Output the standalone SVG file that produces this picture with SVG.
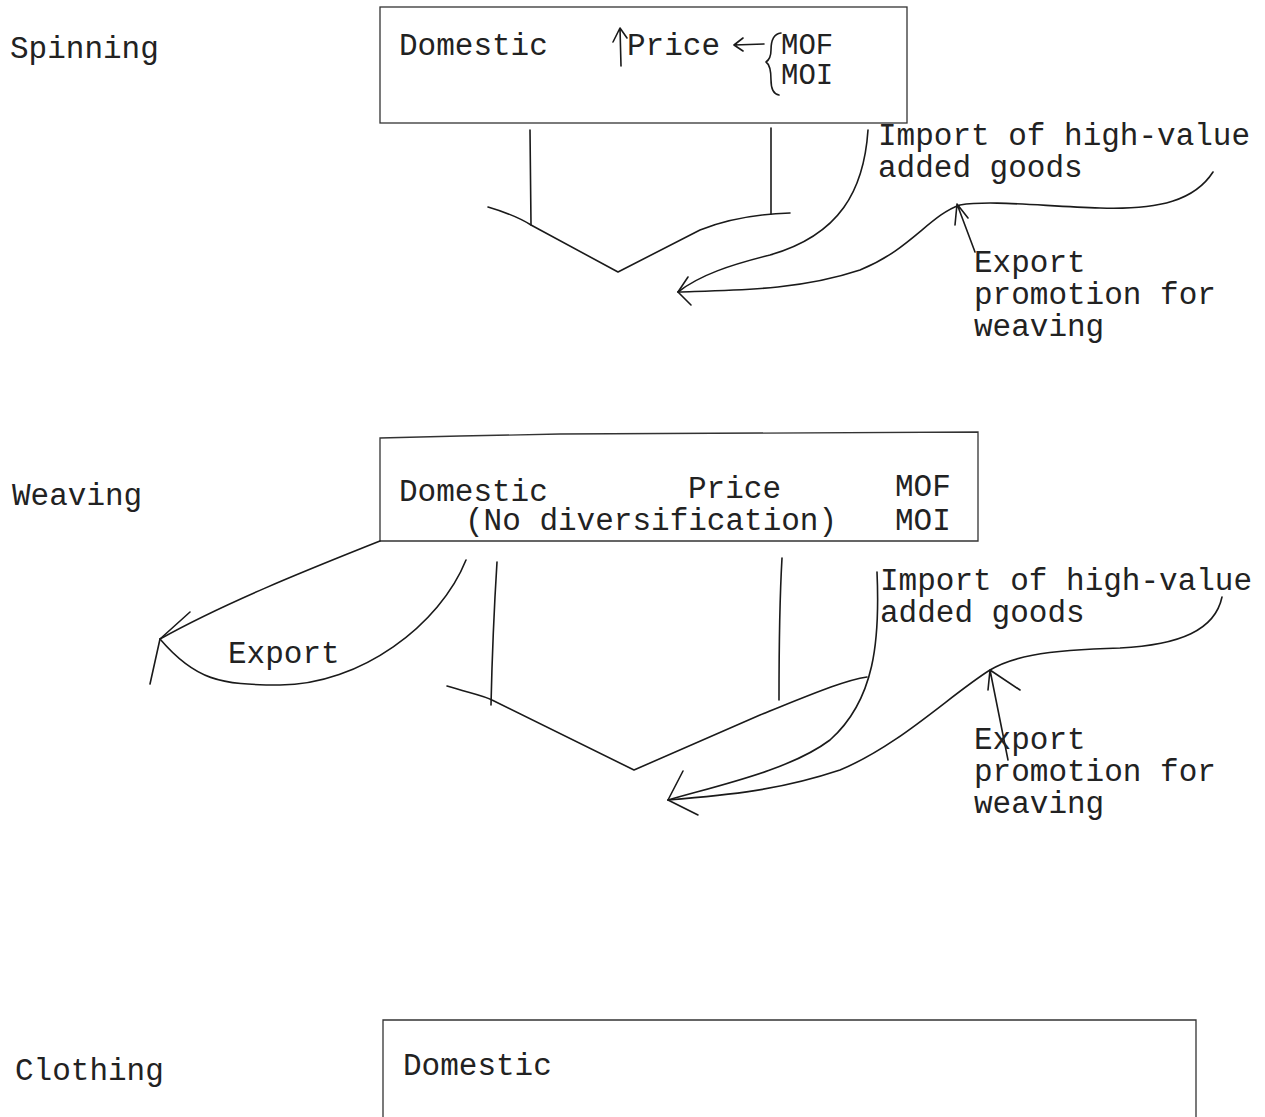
<svg xmlns="http://www.w3.org/2000/svg" width="1265" height="1117" viewBox="0 0 1265 1117">
<style>
text{font-family:"Liberation Mono","Courier New",monospace;font-size:31px;fill:#222}
.sm{font-size:29px}
.s{fill:none;stroke:#1a1a1a;stroke-width:1.6;stroke-linecap:round;stroke-linejoin:round}
.b{fill:none;stroke:#333;stroke-width:1.3}
</style>
<rect width="1265" height="1117" fill="#fff"/>
<g id="spinning">
<text x="10" y="58">Spinning</text>
<rect class="b" x="380" y="7" width="527" height="116"/>
<text x="399" y="55">Domestic</text>
<path class="s" d="M621,66 L620,28 M613,42 L620,28 L627,38"/>
<text x="627" y="55">Price</text>
<path class="s" d="M764,44 L734,45 M743,38 L734,45 L743,51"/>
<path class="s" d="M781,33 C772,34 771,44 771,50 C771,56 769,60 766,62 C769,64 771,70 771,80 C771,88 773,94 779,95"/>
<text class="sm" x="781" y="54">MOF<tspan x="781" dy="30">MOI</tspan></text>
</g>
<g id="weaving">
<text x="12" y="505">Weaving</text>
<path class="b" d="M380,438 L460,436 L560,434 L978,432 L978,541 L380,541 Z"/>
<text x="399" y="501">Domestic</text>
<text x="688" y="498">Price</text>
<text x="465" y="530">(No diversification)</text>
<text x="895" y="496">MOF<tspan x="895" dy="34">MOI</tspan></text>
</g>
<g id="clothing">
<text x="15" y="1080">Clothing</text>
<path class="b" d="M383,1117 L383,1020 L1196,1020 L1196,1117"/>
<text x="403" y="1075">Domestic</text>
</g>
<g id="connectors">
<path class="s" d="M530,130 L531,225"/>
<path class="s" d="M771,128 L771,214"/>
<path class="s" d="M488,207 C505,212 520,218 531,225 L618,272 L700,230 C730,218 760,214 790,213"/>
<path class="s" d="M868,130 C864,190 840,235 770,255 C730,265 700,275 678,292"/>
<path class="s" d="M1213,172 C1195,200 1160,210 1100,208 C1040,206 990,200 960,205 C930,215 910,250 860,270 C800,290 740,290 678,292"/>
<path class="s" d="M688,277 L678,292 L691,305"/>
<path class="s" d="M975,252 L957,204 M955,225 L957,204 L968,218"/>
<text x="878" y="145">Import of high-value<tspan x="878" dy="32">added goods</tspan></text>
<text x="974" y="272">Export<tspan x="974" dy="32">promotion for</tspan><tspan x="974" dy="32">weaving</tspan></text>
<path class="s" d="M380,541 C320,565 230,600 160,639"/>
<path class="s" d="M466,560 C440,625 360,685 280,685 C220,685 195,680 160,639"/>
<path class="s" d="M190,612 L160,639 L150,684"/>
<text x="228" y="663">Export</text>
<path class="s" d="M497,562 C494,610 492,660 491,705"/>
<path class="s" d="M782,558 C779,610 779,660 779,700"/>
<path class="s" d="M447,686 C470,693 485,696 492,700 L634,770 L760,715 C810,695 845,680 867,677"/>
<path class="s" d="M877,572 C880,640 875,700 830,740 C790,770 720,785 668,800"/>
<path class="s" d="M1222,597 C1215,630 1180,645 1120,648 C1040,650 1010,658 990,670 C950,695 900,745 840,770 C780,790 730,795 668,800"/>
<path class="s" d="M683,771 L668,800 L698,815"/>
<path class="s" d="M1008,760 L990,670 M988,690 L990,670 L1020,690"/>
<text x="880" y="590">Import of high-value<tspan x="880" dy="32">added goods</tspan></text>
<text x="974" y="749">Export<tspan x="974" dy="32">promotion for</tspan><tspan x="974" dy="32">weaving</tspan></text>
</g>
</svg>
